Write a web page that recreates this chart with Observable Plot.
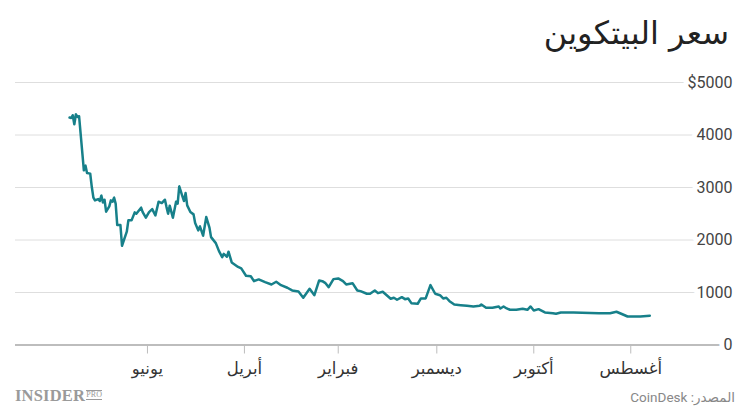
<!DOCTYPE html>
<html lang="ar">
<head>
<meta charset="utf-8">
<script src="https://cdn.jsdelivr.net/npm/d3@7"></script>
<script src="https://cdn.jsdelivr.net/npm/@observablehq/plot@0.6"></script>
<style>
  body { margin: 0; background: #fff; }
  #wrap { position: relative; width: 750px; height: 418px; overflow: hidden; background: #fff; font-family: Roboto, "DejaVu Sans", sans-serif; }
  #title { position: absolute; right: 21px; top: 14px; font-size: 32px; color: #222; direction: rtl; white-space: nowrap; font-family: "DejaVu Sans", sans-serif; }
  #chart { position: absolute; left: 0; top: 62px; }
  #logo { position: absolute; left: 15px; top: 386px; font-family: "Liberation Serif", "DejaVu Serif", serif; font-weight: bold; font-size: 16.5px; color: #9a9a9a; letter-spacing: 0.2px; white-space: nowrap; }
  #logo .pro { display: inline-block; font-size: 8px; font-weight: normal; border-top: 1px solid #9a9a9a; border-bottom: 1px solid #9a9a9a; line-height: 8px; margin-left: 1px; vertical-align: 4px; }
  #source { position: absolute; right: 15px; top: 389px; font-size: 13.5px; color: #888; direction: rtl; white-space: nowrap; }
</style>
</head>
<body>
<div id="wrap">
  <div id="title">سعر البيتكوين</div>
  <div id="chart"></div>
  <div id="logo">INSIDER<span class="pro">PRO</span></div>
  <div id="source">المصدر: CoinDesk</div>
</div>
<script>
const dates = [
  "2016-07-20","2016-07-26","2016-08-03","2016-08-07","2016-08-10","2016-08-14","2016-08-21",
  "2016-09-06","2016-09-14","2016-09-17","2016-09-19","2016-09-24","2016-09-28",
  "2016-10-01","2016-10-03","2016-10-05","2016-10-08","2016-10-12","2016-10-16","2016-10-18","2016-10-20","2016-10-22","2016-10-23","2016-10-27","2016-10-31",
  "2016-11-03","2016-11-04","2016-11-08","2016-11-12","2016-11-16","2016-11-20","2016-11-23","2016-11-25","2016-11-27","2016-11-29",
  "2016-12-02","2016-12-05","2016-12-08","2016-12-11","2016-12-13","2016-12-17","2016-12-19","2016-12-21","2016-12-23","2016-12-26","2016-12-28","2016-12-30",
  "2017-01-04","2017-01-07","2017-01-09","2017-01-12","2017-01-14","2017-01-18","2017-01-20","2017-01-23","2017-01-27","2017-01-29",
  "2017-02-01","2017-02-04","2017-02-07","2017-02-09","2017-02-11","2017-02-13","2017-02-16","2017-02-19","2017-02-23","2017-02-26",
  "2017-03-02","2017-03-05","2017-03-09","2017-03-12","2017-03-15","2017-03-19","2017-03-23","2017-03-26","2017-03-28","2017-03-31",
  "2017-04-03","2017-04-05","2017-04-09","2017-04-11","2017-04-12","2017-04-14","2017-04-15","2017-04-17","2017-04-19","2017-04-22","2017-04-23","2017-04-25","2017-04-27","2017-04-29","2017-04-30",
  "2017-05-02","2017-05-03","2017-05-05","2017-05-07","2017-05-08","2017-05-09","2017-05-10","2017-05-12","2017-05-13","2017-05-14","2017-05-16","2017-05-18","2017-05-19","2017-05-20","2017-05-21","2017-05-23","2017-05-25","2017-05-27","2017-05-29","2017-05-31",
  "2017-06-02","2017-06-04","2017-06-05","2017-06-08","2017-06-09","2017-06-11","2017-06-13","2017-06-14","2017-06-17","2017-06-18","2017-06-20","2017-06-21","2017-06-22","2017-06-23","2017-06-24","2017-06-25","2017-06-27","2017-06-28","2017-06-29","2017-06-30",
  "2017-07-01","2017-07-02","2017-07-04","2017-07-05","2017-07-06","2017-07-07","2017-07-09","2017-07-10","2017-07-11","2017-07-14","2017-07-15","2017-07-16","2017-07-17","2017-07-18","2017-07-19","2017-07-20"
];
const prices = [
  557,543,543,595,633,606,606,
  620,620,595,606,620,683,
  658,734,671,690,671,671,696,734,696,734,709,709,
  772,747,734,747,759,772,835,900,887,949,
  976,1140,887,887,786,797,887,873,911,862,900,881,
  1014,988,1039,976,976,1026,1039,1178,1153,1216,
  1268,1255,1102,1178,1216,1230,949,1071,900,1020,
  1039,1091,1140,1205,1153,1197,1249,1216,1310,1319,
  1459,1487,1573,1777,1682,1735,1674,1788,1941,2055,2235,2437,2082,2259,2183,
  2322,2488,2532,2660,2894,2742,2831,3022,2692,2730,2425,2654,2501,2627,2768,2704,2730,2469,2589,2532,
  2425,2532,2616,2501,2526,2374,2374,2158,1891,2284,2284,2692,2807,2730,2755,2641,2540,2768,2717,2845,
  2742,2780,2755,2807,3009,3264,3276,3417,3327,4357,4343,4395,4204,4376,4324,4332
];
const monthTicks = ["2016-08-01","2016-10-01","2016-12-01","2017-02-01","2017-04-01","2017-06-01"];
const monthLabels = ["أغسطس","أكتوبر","ديسمبر","فبراير","أبريل","يونيو"];
const yTicks = [0, 1000, 2000, 3000, 4000, 5000];
const yLabels = ["0", "1000", "2000", "3000", "4000", "$5000"];
const xDomain = ["2016-05-29", "2017-08-23"];

const data = dates.map((d, i) => ({date: new Date(d), price: prices[i]}));
const tickDates = monthTicks.map(d => new Date(d));
const labelFor = new Map(tickDates.map((d, i) => [+d, monthLabels[i]]));

const chart = Plot.plot({
  width: 750,
  height: 320,
  marginTop: 20,
  marginBottom: 37.5,
  marginLeft: 15,
  marginRight: 18,
  x: {type: "utc", domain: xDomain.map(d => new Date(d)), reverse: true},
  y: {domain: [0, 5000]},
  style: {fontFamily: "Roboto, 'DejaVu Sans', sans-serif", fontSize: "16px", color: "#333", background: "#fff", overflow: "visible"},
  marks: [
    Plot.ruleY(yTicks.filter(d => d > 0), {stroke: "#dedede", strokeWidth: 1}),
    Plot.ruleY([0], {stroke: "#bdbdbd", strokeWidth: 2}),
    Plot.axisX({ticks: tickDates, tickFormat: d => labelFor.get(+d), tickSize: 9, tickPadding: 8,
      stroke: "#bdbdbd", fill: "#333", fontSize: 16.5, label: null, fontFamily: "'DejaVu Sans', sans-serif"}),
    Plot.axisY({ticks: [], label: null}),
    Plot.lineY(data, {x: "date", y: "price", stroke: "#17808a", strokeWidth: 2.5}),
    Plot.text(yTicks, {y: d => d, text: yLabels, frameAnchor: "right", textAnchor: "end",
      fill: "#444", stroke: "white", strokeWidth: 10, paintOrder: "stroke", fontSize: 16})
  ]
});
document.getElementById("chart").appendChild(chart);
</script>
</body>
</html>
